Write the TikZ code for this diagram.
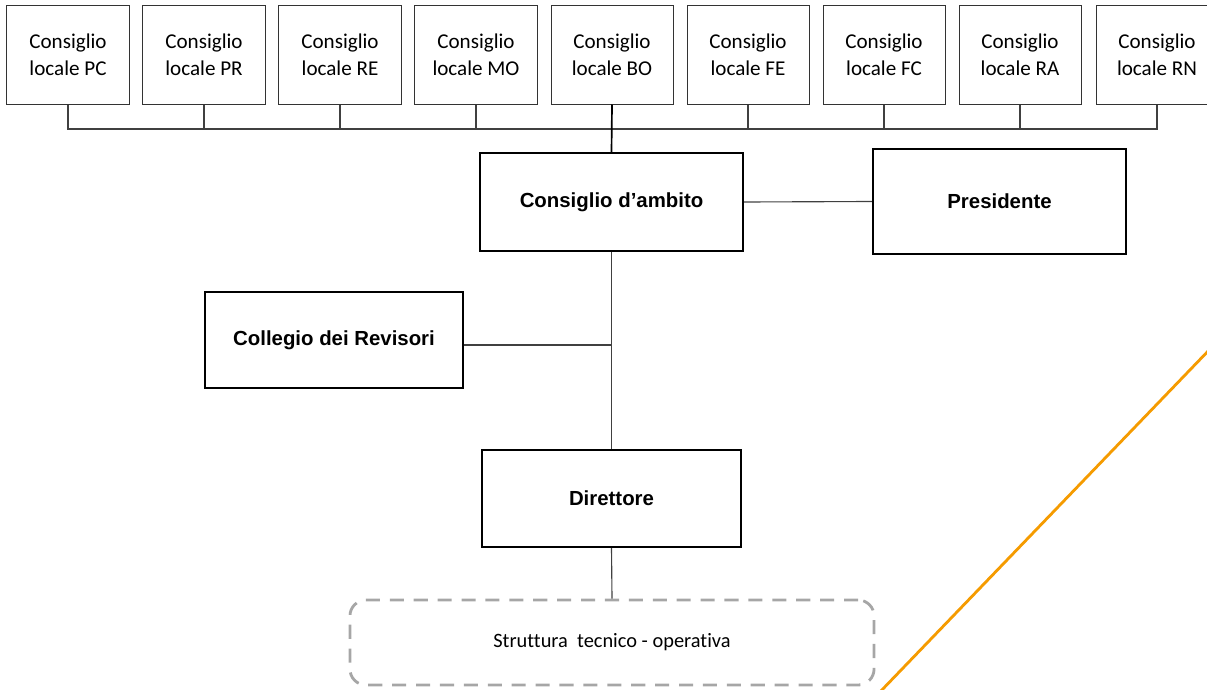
\documentclass[tikz,border=0pt]{standalone}
\usepackage{fontspec}
\setmainfont{Carlito}[Ligatures={NoCommon}]
\newfontfamily\arialfont{Liberation Sans}

\tikzset{
  locale/.style={draw=black!80, line width=0.7pt, minimum width=3.05cm, minimum height=2.45cm,
    inner sep=0pt, align=center, font=\fontsize{15}{19}\selectfont},
  organo/.style={draw=black, line width=1.5pt, inner sep=0pt, align=center,
    font=\arialfont\bfseries\fontsize{14.5}{17}\selectfont},
  linea/.style={black!75, line width=0.8pt},
  tratteggio/.style={draw=black!35, line width=2pt, dash pattern=on 10pt off 7pt,
    rounded corners=0.4cm, minimum width=13.1cm, minimum height=2.125cm,
    font=\fontsize{14.5}{17}\selectfont},
  arancio/.style={draw={rgb,255:red,245;green,155;blue,0}, line width=2pt}
}

\begin{document}
\begin{tikzpicture}[x=0.025cm, y=-0.025cm]
\useasboundingbox (0,0) rectangle (1207,689);

% consigli locali
\node[locale] (PC) at (68,55)   {Consiglio\\locale PC};
\node[locale] (PR) at (204,55)  {Consiglio\\locale PR};
\node[locale] (RE) at (340,55)  {Consiglio\\locale RE};
\node[locale] (MO) at (476,55)  {Consiglio\\locale MO};
\node[locale] (BO) at (612,55)  {Consiglio\\locale BO};
\node[locale] (FE) at (748,55)  {Consiglio\\locale FE};
\node[locale] (FC) at (884,55)  {Consiglio\\locale FC};
\node[locale] (RA) at (1020,55) {Consiglio\\locale RA};
\node[locale] (RN) at (1157,55) {Consiglio\\locale RN};

% organi
\node[organo, minimum width=6.575cm, minimum height=2.45cm]  (ambito)     at (611.5,202) {Consiglio d’ambito};
\node[organo, minimum width=6.325cm, minimum height=2.625cm] (presidente) at (999.5,201.5) {Presidente};
\node[organo, minimum width=6.45cm, minimum height=2.4cm]    (revisori)   at (334,340) {Collegio dei Revisori};
\node[organo, minimum width=6.475cm, minimum height=2.425cm] (direttore)  at (611.5,498.5) {Direttore};
\node[tratteggio] (struttura) at (612,642.5) {Struttura\ \ tecnico - operativa};

\coordinate (bus) at (0,129);
\coordinate (giunto) at (612,345);

% collegamenti
\draw[linea] (PC.south) -- (PC.south |- bus) -- (RN.south |- bus) -- (RN.south);
\draw[linea] (PR.south) -- (PR.south |- bus);
\draw[linea] (RE.south) -- (RE.south |- bus);
\draw[linea] (MO.south) -- (MO.south |- bus);
\draw[linea] (FE.south) -- (FE.south |- bus);
\draw[linea] (FC.south) -- (FC.south |- bus);
\draw[linea] (RA.south) -- (RA.south |- bus);
\draw[black, line width=1.2pt] (BO.south) -- (ambito.north);
\draw[linea] (ambito.east) -- (presidente.west);
\draw[linea] (ambito.south) -- (direttore.north);
\draw[linea] (revisori.east |- giunto) -- (giunto);
\draw[linea] (direttore.south) -- (struttura.north);

\draw[arancio] (1212,347) -- (878,694);

\end{tikzpicture}
\end{document}
